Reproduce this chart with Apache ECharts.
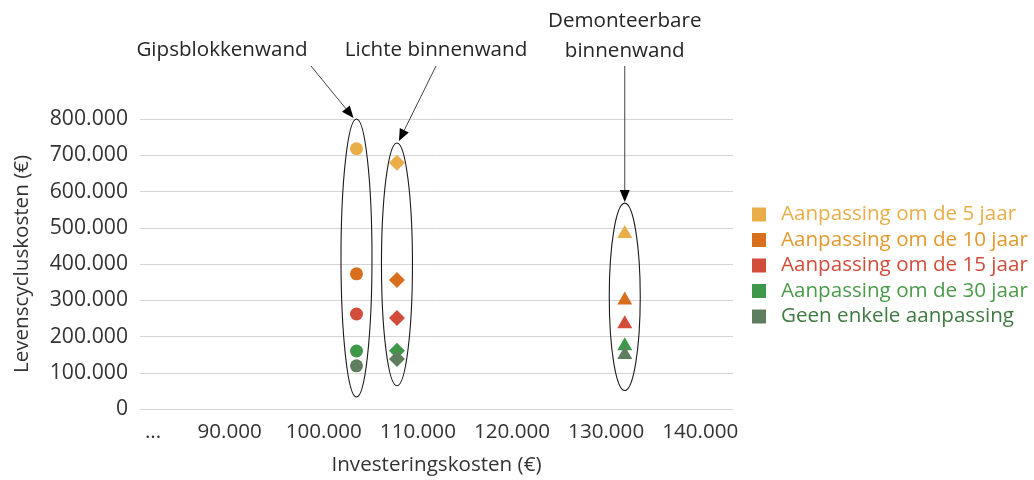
<!DOCTYPE html>
<html>
<head>
<meta charset="utf-8">
<script src="https://cdn.jsdelivr.net/npm/echarts@6/dist/echarts.min.js"></script>
<style>html,body{margin:0;padding:0;background:#fff}#c{width:1034px;height:480px}</style>
</head>
<body>
<div id="c"></div>
<script>
// ---- data ----
const categories = ['Gipsblokkenwand', 'Lichte binnenwand', 'Demonteerbare binnenwand'];
const investering = [103000, 107300, 131500];
const seriesNames = ['Aanpassing om de 5 jaar', 'Aanpassing om de 10 jaar', 'Aanpassing om de 15 jaar', 'Aanpassing om de 30 jaar', 'Geen enkele aanpassing'];
const v5 = [718000, 679000, 490000];
const v10 = [373000, 356000, 306000];
const v15 = [262000, 251000, 241000];
const v30 = [160000, 161000, 180000];
const vGeen = [119000, 138000, 156000];
const seriesValues = [v5, v10, v15, v30, vGeen];
const xTickLabels = {80000: '...', 90000: '90.000', 100000: '100.000', 110000: '110.000', 120000: '120.000', 130000: '130.000', 140000: '140.000'};
// annotation ranges (data units): [xCenter, yLow, yHigh]
const groupRanges = [[103000, 33000, 800000], [107300, 64000, 734000], [131500, 51000, 568000]];

// ---- styles ----
const FONT = 'Open Sans';
const FS = 20.6;
const colors = ['#E9AE48', '#D76F1E', '#D24C3A', '#3F984A', '#5F7D5F'];
const legendTextColors = ['#E9AE48', '#E3992C', '#D24C3A', '#4A9A4A', '#3F7A40'];
const symbols = ['circle', 'diamond', 'triangle'];
const symbolSizes = [13, 16, [15, 13]];

function fmt(v) { return String(v).replace(/\B(?=(\d{3})+(?!\d))/g, '.'); }

const chart = echarts.init(document.getElementById('c'), null, {renderer: 'canvas'});

const series = seriesNames.map((name, si) => ({
  name: name,
  type: 'scatter',
  itemStyle: {color: colors[si], opacity: 1},
  data: investering.map((x, i) => ({
    value: [x, seriesValues[si][i]],
    symbol: symbols[i],
    symbolSize: symbolSizes[i]
  }))
}));

chart.setOption({
  animation: false,
  textStyle: {fontFamily: FONT},
  grid: {left: 140, right: 301, top: 119, bottom: 71, containLabel: false, outerBoundsMode: 'none'},
  legend: {
    orient: 'vertical',
    left: 747,
    top: 199,
    icon: 'rect',
    itemWidth: 14,
    itemHeight: 14,
    itemGap: 4.5,
    textStyle: {fontFamily: FONT, fontSize: FS, lineHeight: 20, padding: [0, 0, 0, 10]},
    data: seriesNames.map((n, i) => ({name: n, textStyle: {color: legendTextColors[i]}}))
  },
  xAxis: {
    type: 'value',
    min: 80000,
    max: 143000,
    interval: 10000,
    name: 'Investeringskosten (€)',
    nameLocation: 'middle',
    nameGap: 46,
    nameTextStyle: {fontFamily: FONT, fontSize: FS, color: '#333'},
    axisLine: {show: false},
    axisTick: {show: false},
    splitLine: {show: false},
    axisLabel: {
      fontFamily: FONT, fontSize: FS, color: '#333', margin: 13,
      padding: [0, 9, 0, 0],
      showMaxLabel: false,
      formatter: v => v === 80000 ? '{e|' + xTickLabels[v] + '}' : (xTickLabels[v] !== undefined ? xTickLabels[v] : ''),
      rich: {e: {fontFamily: FONT, fontSize: FS, color: '#333', padding: [0, 0, 0, 35]}}
    }
  },
  yAxis: {
    type: 'value',
    min: 0,
    max: 800000,
    interval: 100000,
    name: 'Levenscycluskosten (€)',
    nameLocation: 'middle',
    nameGap: 107,
    nameTextStyle: {fontFamily: FONT, fontSize: FS, color: '#333'},
    axisLine: {show: false},
    axisTick: {show: false},
    splitLine: {lineStyle: {color: '#D4D4D4', width: 1}},
    axisLabel: {fontFamily: FONT, fontSize: 21.2, color: '#333', margin: 12, formatter: v => fmt(v)}
  },
  series: series
});

// ---- annotations ----
function px(x, y) { return chart.convertToPixel({xAxisIndex: 0, yAxisIndex: 0}, [x, y]); }
const graphics = [];
const halfW = 15.5;
groupRanges.forEach(r => {
  const top = px(r[0], r[2]);
  const bot = px(r[0], r[1]);
  graphics.push({
    type: 'ellipse', z: 10, silent: true,
    shape: {cx: top[0], cy: (top[1] + bot[1]) / 2, rx: halfW, ry: (bot[1] - top[1]) / 2},
    style: {fill: null, stroke: '#1a1a1a', lineWidth: 1.1}
  });
});
function arrow(x1, y1, x2, y2) {
  const dx = x2 - x1, dy = y2 - y1, L = Math.sqrt(dx * dx + dy * dy);
  const ux = dx / L, uy = dy / L;
  const hl = 12, hw = 5;
  const bx = x2 - ux * hl, by = y2 - uy * hl;
  graphics.push({type: 'line', z: 10, silent: true, shape: {x1: x1, y1: y1, x2: bx, y2: by}, style: {stroke: '#444', lineWidth: 1}});
  graphics.push({type: 'polygon', z: 10, silent: true,
    shape: {points: [[x2, y2], [bx - uy * hw, by + ux * hw], [bx + uy * hw, by - ux * hw]]},
    style: {fill: '#000'}});
}
const gTop = px(groupRanges[0][0], groupRanges[0][2]);
const lTop = px(groupRanges[1][0], groupRanges[1][2]);
const dTop = px(groupRanges[2][0], groupRanges[2][2]);
arrow(311, 66, gTop[0] - 3, gTop[1] - 1);
arrow(436, 66, lTop[0] + 2, lTop[1] - 2);
arrow(dTop[0], 66, dTop[0], dTop[1] - 1);

const labelStyle = {fontFamily: FONT, fontSize: FS, fill: '#262626', align: 'center', verticalAlign: 'middle'};
graphics.push({type: 'text', silent: true, style: Object.assign({text: categories[0], x: 222, y: 50}, labelStyle)});
graphics.push({type: 'text', silent: true, style: Object.assign({text: categories[1], x: 436, y: 50}, labelStyle)});
graphics.push({type: 'text', silent: true, style: Object.assign({text: 'Demonteerbare\nbinnenwand', x: dTop[0], y: 36, lineHeight: 30}, labelStyle)});

chart.setOption({graphic: graphics});
</script>
</body>
</html>
